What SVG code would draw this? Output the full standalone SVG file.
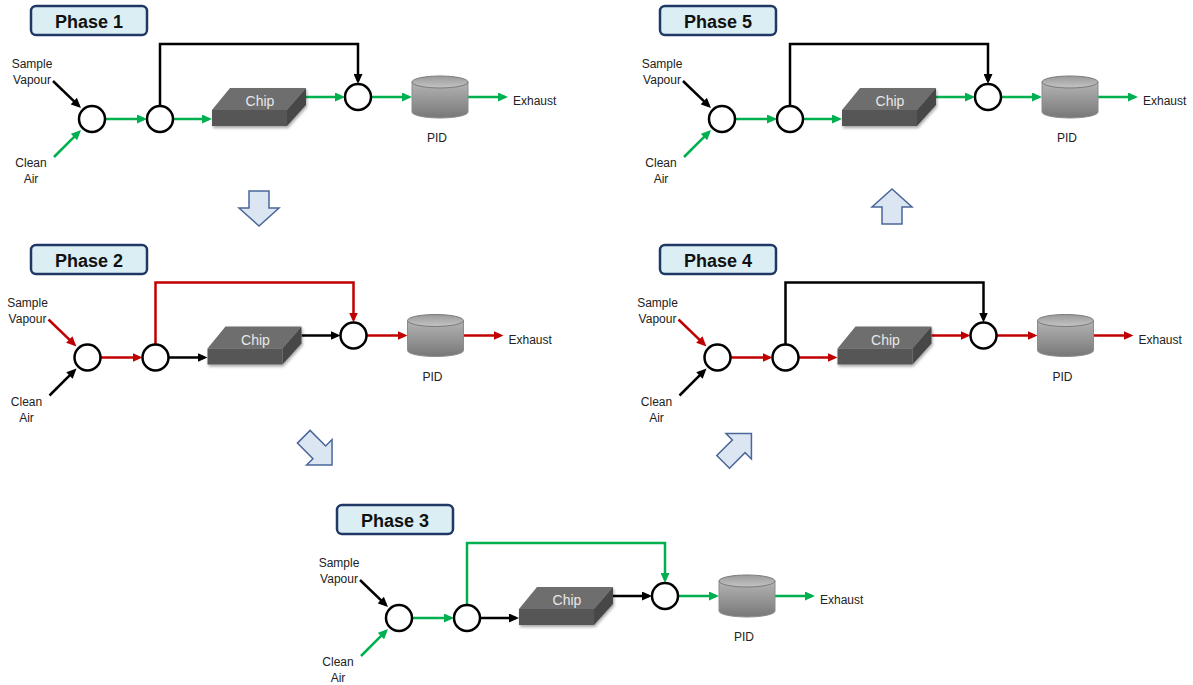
<svg xmlns="http://www.w3.org/2000/svg" xmlns:xlink="http://www.w3.org/1999/xlink" width="1193" height="685" viewBox="0 0 1193 685">
  <style>
    .lbl { font-family: "Liberation Sans", Arial, sans-serif; font-size: 12px; fill: #222; text-anchor: middle; }
    .exh { font-family: "Liberation Sans", Arial, sans-serif; font-size: 12px; fill: #222; }
    .chipt { font-family: "Liberation Sans", Arial, sans-serif; font-size: 14px; fill: #e8e8e8; text-anchor: middle; }
    .phase-box { fill: #dbeef4; stroke: #1f3864; stroke-width: 2.5; }
    .phase-t { font-family: "Liberation Sans", Arial, sans-serif; font-size: 18px; font-weight: bold; fill: #111; text-anchor: middle; }
    .valve { fill: #fff; stroke: #000; stroke-width: 2.5; }
    .k, .g, .r { fill: none; stroke-width: 2.5; stroke-linejoin: miter; }
    .k { stroke: #000; marker-end: url(#ah-k); }
    .g { stroke: #00b050; marker-end: url(#ah-g); }
    .r { stroke: #c00000; marker-end: url(#ah-r); }
    .step { fill: #dce6f2; stroke: #4a6799; stroke-width: 1.5; stroke-linejoin: miter; }
  </style>
  <defs>
    <marker id="ah-k" markerUnits="userSpaceOnUse" markerWidth="10" markerHeight="9" refX="7" refY="4.5" orient="auto">
      <path d="M0,0 L10,4.5 L0,9 z" fill="#000"/>
    </marker>
    <marker id="ah-g" markerUnits="userSpaceOnUse" markerWidth="10" markerHeight="9" refX="7" refY="4.5" orient="auto">
      <path d="M0,0 L10,4.5 L0,9 z" fill="#00b050"/>
    </marker>
    <marker id="ah-r" markerUnits="userSpaceOnUse" markerWidth="10" markerHeight="9" refX="7" refY="4.5" orient="auto">
      <path d="M0,0 L10,4.5 L0,9 z" fill="#c00000"/>
    </marker>
    <filter id="soft-shadow" x="-20%" y="-20%" width="150%" height="160%">
      <feDropShadow dx="1" dy="2" stdDeviation="1.8" flood-color="#000" flood-opacity="0.35"/>
    </filter>
    <linearGradient id="pid-body-grad" x1="0" y1="0" x2="0" y2="1">
      <stop offset="0" stop-color="#b4b4b4"/>
      <stop offset="0.7" stop-color="#8a8a8a"/>
      <stop offset="1" stop-color="#777"/>
    </linearGradient>
    <linearGradient id="pid-top-grad" x1="0" y1="0" x2="0" y2="1">
      <stop offset="0" stop-color="#9a9a9a"/>
      <stop offset="1" stop-color="#c4c4c4"/>
    </linearGradient>
    <!-- sensor chip: slab drawn in the phase-local frame -->
    <g id="chip-body" filter="url(#soft-shadow)">
      <polygon points="212,110 230,88 306,88 287,110" fill="#6e6e6e"/>
      <polygon points="287,110 306,88 306,105 287,126" fill="#474747"/>
      <rect x="212" y="110" width="75" height="16" fill="#575757"/>
    </g>
    <!-- photo-ionisation detector cylinder -->
    <g id="pid-body">
      <path d="M412,82 V112 A28,6 0 0 0 468,112 V82 Z" fill="url(#pid-body-grad)" stroke="#8c8c8c" stroke-width="1"/>
      <ellipse cx="440" cy="82" rx="28" ry="6" fill="url(#pid-top-grad)" stroke="#7a7a7a" stroke-width="1"/>
    </g>
    <!-- block step arrow pointing along +y, centred on its shaft -->
    <polygon id="step-arrow" points="-10,-17 10,-17 10,0 20,0 0,18 -20,0 -10,0"/>
    <polygon id="step-arrow-diag" points="-9,-21 9,-21 9,1 18,1 0,19 -18,1 -9,1"/>
  </defs>

  <!-- phase titles -->
  <g id="titles">
    <g id="title-1"><rect class="phase-box" x="31" y="6" width="116" height="29" rx="5"/><text class="phase-t" x="89" y="28">Phase 1</text></g>
    <g id="title-2"><rect class="phase-box" x="31" y="245" width="116" height="29" rx="5"/><text class="phase-t" x="89" y="267">Phase 2</text></g>
    <g id="title-3"><rect class="phase-box" x="337" y="505" width="116" height="29" rx="5"/><text class="phase-t" x="395" y="527">Phase 3</text></g>
    <g id="title-4"><rect class="phase-box" x="660" y="245" width="116" height="29" rx="5"/><text class="phase-t" x="718" y="267">Phase 4</text></g>
    <g id="title-5"><rect class="phase-box" x="660" y="6" width="116" height="29" rx="5"/><text class="phase-t" x="718" y="28">Phase 5</text></g>
  </g>

  <!-- transitions between phases -->
  <g id="step-arrows">
    <use class="step" xlink:href="#step-arrow" href="#step-arrow" transform="translate(259,208)"/>
    <use class="step" xlink:href="#step-arrow-diag" href="#step-arrow-diag" transform="translate(318.6,451.6) rotate(-45)"/>
    <use class="step" xlink:href="#step-arrow-diag" href="#step-arrow-diag" transform="translate(738,447) rotate(-135)"/>
    <use class="step" xlink:href="#step-arrow" href="#step-arrow" transform="translate(892,207) rotate(180)"/>
  </g>

  <!-- Phase 1 -->
  <g id="phase1">
    <g id="p1-connectors">
      <path class="k" d="M53,81 L78.8,105.9"/>
      <path class="g" d="M54,157 L78.9,132.1"/>
      <path class="g" d="M105,119 H144"/>
      <path class="g" d="M173,119 H209"/>
      <path class="k" d="M160,106 V44 H358 V81"/>
      <path class="g" d="M306,97 H342"/>
      <path class="g" d="M371,97 H409"/>
      <path class="g" d="M468,97 H505"/>
    </g>
    <g id="p1-sample"><text class="lbl" x="32" y="68">Sample</text><text class="lbl" x="32" y="84">Vapour</text></g>
    <g id="p1-clean"><text class="lbl" x="31" y="167">Clean</text><text class="lbl" x="31" y="183">Air</text></g>
    <g id="p1-mixer"><circle class="valve" cx="92" cy="119" r="13"/></g>
    <g id="p1-splitter"><circle class="valve" cx="160" cy="119" r="13"/></g>
    <g id="p1-chip"><use xlink:href="#chip-body" href="#chip-body"/><text class="chipt" x="260" y="106">Chip</text></g>
    <g id="p1-junction"><circle class="valve" cx="358" cy="97" r="13"/></g>
    <g id="p1-pid"><use xlink:href="#pid-body" href="#pid-body"/><text class="lbl" x="437" y="142">PID</text></g>
    <g id="p1-exhaust"><text class="exh" x="513" y="105">Exhaust</text></g>
  </g>

  <!-- Phase 2 -->
  <g id="phase2" transform="translate(-4.5,238.5)">
    <g id="p2-connectors">
      <path class="r" d="M53,81 L78.8,105.9"/>
      <path class="k" d="M54,157 L78.9,132.1"/>
      <path class="r" d="M105,119 H144"/>
      <path class="k" d="M173,119 H209"/>
      <path class="r" d="M160,106 V44 H358 V81"/>
      <path class="k" d="M306,97 H342"/>
      <path class="r" d="M371,97 H409"/>
      <path class="r" d="M468,97 H505"/>
    </g>
    <g id="p2-sample"><text class="lbl" x="32" y="68">Sample</text><text class="lbl" x="32" y="84">Vapour</text></g>
    <g id="p2-clean"><text class="lbl" x="31" y="167">Clean</text><text class="lbl" x="31" y="183">Air</text></g>
    <g id="p2-mixer"><circle class="valve" cx="92" cy="119" r="13"/></g>
    <g id="p2-splitter"><circle class="valve" cx="160" cy="119" r="13"/></g>
    <g id="p2-chip"><use xlink:href="#chip-body" href="#chip-body"/><text class="chipt" x="260" y="106">Chip</text></g>
    <g id="p2-junction"><circle class="valve" cx="358" cy="97" r="13"/></g>
    <g id="p2-pid"><use xlink:href="#pid-body" href="#pid-body"/><text class="lbl" x="437" y="142">PID</text></g>
    <g id="p2-exhaust"><text class="exh" x="513" y="105">Exhaust</text></g>
  </g>

  <!-- Phase 3 -->
  <g id="phase3" transform="translate(307,499)">
    <g id="p3-connectors">
      <path class="k" d="M53,81 L78.8,105.9"/>
      <path class="g" d="M54,157 L78.9,132.1"/>
      <path class="g" d="M105,119 H144"/>
      <path class="k" d="M173,119 H209"/>
      <path class="g" d="M160,106 V44 H358 V81"/>
      <path class="k" d="M306,97 H342"/>
      <path class="g" d="M371,97 H409"/>
      <path class="g" d="M468,97 H505"/>
    </g>
    <g id="p3-sample"><text class="lbl" x="32" y="68">Sample</text><text class="lbl" x="32" y="84">Vapour</text></g>
    <g id="p3-clean"><text class="lbl" x="31" y="167">Clean</text><text class="lbl" x="31" y="183">Air</text></g>
    <g id="p3-mixer"><circle class="valve" cx="92" cy="119" r="13"/></g>
    <g id="p3-splitter"><circle class="valve" cx="160" cy="119" r="13"/></g>
    <g id="p3-chip"><use xlink:href="#chip-body" href="#chip-body"/><text class="chipt" x="260" y="106">Chip</text></g>
    <g id="p3-junction"><circle class="valve" cx="358" cy="97" r="13"/></g>
    <g id="p3-pid"><use xlink:href="#pid-body" href="#pid-body"/><text class="lbl" x="437" y="142">PID</text></g>
    <g id="p3-exhaust"><text class="exh" x="513" y="105">Exhaust</text></g>
  </g>

  <!-- Phase 4 -->
  <g id="phase4" transform="translate(625.5,238.5)">
    <g id="p4-connectors">
      <path class="r" d="M53,81 L78.8,105.9"/>
      <path class="k" d="M54,157 L78.9,132.1"/>
      <path class="r" d="M105,119 H144"/>
      <path class="r" d="M173,119 H209"/>
      <path class="k" d="M160,106 V44 H358 V81"/>
      <path class="r" d="M306,97 H342"/>
      <path class="r" d="M371,97 H409"/>
      <path class="r" d="M468,97 H505"/>
    </g>
    <g id="p4-sample"><text class="lbl" x="32" y="68">Sample</text><text class="lbl" x="32" y="84">Vapour</text></g>
    <g id="p4-clean"><text class="lbl" x="31" y="167">Clean</text><text class="lbl" x="31" y="183">Air</text></g>
    <g id="p4-mixer"><circle class="valve" cx="92" cy="119" r="13"/></g>
    <g id="p4-splitter"><circle class="valve" cx="160" cy="119" r="13"/></g>
    <g id="p4-chip"><use xlink:href="#chip-body" href="#chip-body"/><text class="chipt" x="260" y="106">Chip</text></g>
    <g id="p4-junction"><circle class="valve" cx="358" cy="97" r="13"/></g>
    <g id="p4-pid"><use xlink:href="#pid-body" href="#pid-body"/><text class="lbl" x="437" y="142">PID</text></g>
    <g id="p4-exhaust"><text class="exh" x="513" y="105">Exhaust</text></g>
  </g>

  <!-- Phase 5 -->
  <g id="phase5" transform="translate(630,0)">
    <g id="p5-connectors">
      <path class="k" d="M53,81 L78.8,105.9"/>
      <path class="g" d="M54,157 L78.9,132.1"/>
      <path class="g" d="M105,119 H144"/>
      <path class="g" d="M173,119 H209"/>
      <path class="k" d="M160,106 V44 H358 V81"/>
      <path class="g" d="M306,97 H342"/>
      <path class="g" d="M371,97 H409"/>
      <path class="g" d="M468,97 H505"/>
    </g>
    <g id="p5-sample"><text class="lbl" x="32" y="68">Sample</text><text class="lbl" x="32" y="84">Vapour</text></g>
    <g id="p5-clean"><text class="lbl" x="31" y="167">Clean</text><text class="lbl" x="31" y="183">Air</text></g>
    <g id="p5-mixer"><circle class="valve" cx="92" cy="119" r="13"/></g>
    <g id="p5-splitter"><circle class="valve" cx="160" cy="119" r="13"/></g>
    <g id="p5-chip"><use xlink:href="#chip-body" href="#chip-body"/><text class="chipt" x="260" y="106">Chip</text></g>
    <g id="p5-junction"><circle class="valve" cx="358" cy="97" r="13"/></g>
    <g id="p5-pid"><use xlink:href="#pid-body" href="#pid-body"/><text class="lbl" x="437" y="142">PID</text></g>
    <g id="p5-exhaust"><text class="exh" x="513" y="105">Exhaust</text></g>
  </g>
</svg>
